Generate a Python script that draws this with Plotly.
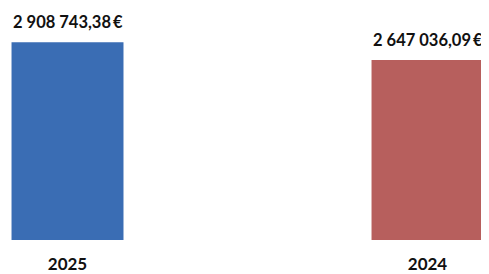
import plotly.graph_objects as go

categories = ["2025", "2024"]
values = [2908743.38, 2647036.09]
value_labels = ["2 908 743,38\u2009€", "2 647 036,09\u2009€"]
colors = ["#3a6db4", "#b75f5d"]

fig = go.Figure()
fig.add_trace(go.Bar(
    x=categories, y=values,
    marker=dict(color=colors, line=dict(width=0)),
    width=0.311,
    hoverinfo="skip",
))

for i, (v, lab) in enumerate(zip(values, value_labels)):
    fig.add_annotation(
        x=i, y=v, text="<b>%s</b>" % lab, showarrow=False,
        xref="x", yref="y",
        yanchor="bottom", yshift=8,
        font=dict(family="Lato", size=16.5, color="#111111"),
    )

# page body has an 8px default margin, so the figure is sized 8px smaller
fig.update_layout(
    width=481, height=266,
    margin=dict(l=0, r=0, t=0, b=34),
    paper_bgcolor="white", plot_bgcolor="white",
    showlegend=False,
    xaxis=dict(
        type="category", range=[-0.1653, 1.1708],
        showgrid=False, zeroline=False, showline=False, ticks="",
        tickfont=dict(family="Lato", size=17, color="#111111", weight="bold"),
        ticklabelstandoff=12,
    ),
    yaxis=dict(
        range=[0, 3.412e6], visible=False, showgrid=False, zeroline=False,
    ),
)

fig.write_html("out.html")
